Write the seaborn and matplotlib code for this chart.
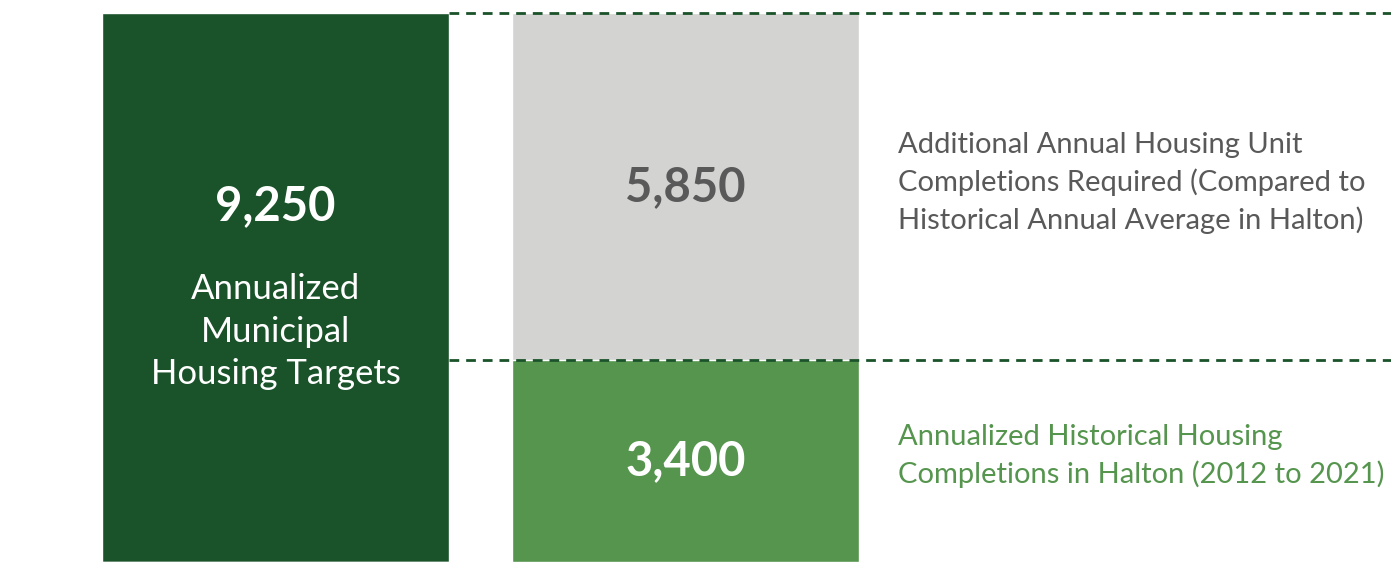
import matplotlib
matplotlib.use("Agg")
import matplotlib.pyplot as plt
import seaborn as sns
import pandas as pd

# data
categories = ["Target", "Halton"]
target = [9250, 0]
historical = [0, 3400]
additional = [0, 5850]
label_target = "Annualized\nMunicipal\nHousing Targets"
label_additional = "Additional Annual Housing Unit\nCompletions Required (Compared to\nHistorical Annual Average in Halton)"
label_historical = "Annualized Historical Housing\nCompletions in Halton (2012 to 2021)"

dark_green = "#1a5229"
light_green = "#55954e"
grey = "#d3d3d2"
text_grey = "#595959"

sns.set_theme(style="white")
plt.rcParams["font.family"] = ["Lato", "DejaVu Sans"]

fig = plt.figure(figsize=(13.91, 5.62), dpi=100)
ax = fig.add_axes([0, 0, 1, 1])

# totals per bar (stack drawn as total first, then the bottom segment on top)
totals = [t + h + a for t, h, a in zip(target, historical, additional)]
df_tot = pd.DataFrame({"cat": categories, "value": totals})
df_hist = pd.DataFrame({"cat": categories, "value": historical})

w = 347 / 410
sns.barplot(data=df_tot, x="cat", y="value", hue="cat",
            palette=[dark_green, grey], width=w, legend=False, ax=ax,
            saturation=1)
sns.barplot(data=df_hist, x="cat", y="value", hue="cat",
            palette=[dark_green, light_green], width=w, legend=False, ax=ax,
            saturation=1)

x0 = -275.5 / 410
x1 = (1391 - 275.5) / 410
ax.set_xlim(x0, x1)
ax.set_ylim(0, totals[0] * 562 / 549)

# dashed guide lines
for yv in [totals[0], historical[1]]:
    ax.plot([w / 2, x1], [yv, yv], color=dark_green, lw=2,
            linestyle=(0, (3.5, 2.5)), zorder=5)

# labels inside bars
ax.text(0, 6000, f"{totals[0]:,}", color="white", fontsize=34,
        fontweight="bold", ha="center", va="center")
ax.text(0, 3880, label_target, color="white", fontsize=25,
        ha="center", va="center", linespacing=1.4)
ax.text(1, 6320, f"{additional[1]:,}",
        color=text_grey, fontsize=34, fontweight="bold",
        ha="center", va="center")
ax.text(1, 1700, f"{historical[1]:,}", color="white",
        fontsize=34, fontweight="bold", ha="center", va="center")

# side annotations
tx = (898 - 275.5) / 410
ax.text(tx, 6390, label_additional, color=text_grey, fontsize=21,
        ha="left", va="center", linespacing=1.45)
ax.text(tx, 1790, label_historical, color=light_green, fontsize=21,
        ha="left", va="center", linespacing=1.45)

ax.set_axis_off()
fig.savefig("out.png", dpi=100)
